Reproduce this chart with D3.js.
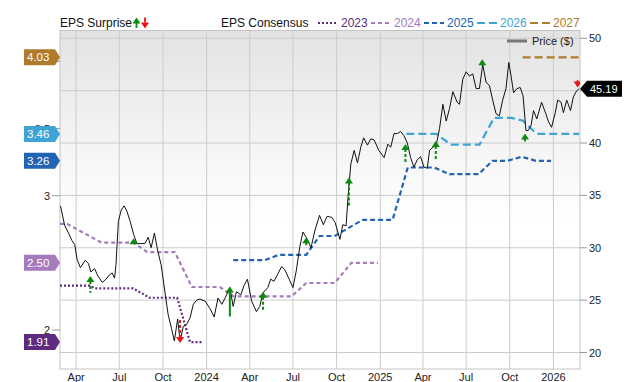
<!DOCTYPE html>
<html><head><meta charset="utf-8">
<script src="https://cdn.jsdelivr.net/npm/d3@7"></script>
<style>body{margin:0;background:#fff;} svg{display:block;font-family:"Liberation Sans",Arial,Helvetica,sans-serif;}</style>
</head><body><svg id="c" width="640" height="382"></svg>
<script>
// ---------------- DATA ----------------
const priceDates = ["2023-02-27","2023-03-08","2023-03-16","2023-03-23","2023-03-29","2023-04-03","2023-04-10","2023-04-20","2023-04-27","2023-05-02","2023-05-10","2023-05-17","2023-05-26","2023-06-01","2023-06-10","2023-06-16","2023-06-21","2023-06-24","2023-06-29","2023-07-05","2023-07-11","2023-07-17","2023-07-24","2023-07-31","2023-08-07","2023-08-16","2023-08-24","2023-08-31","2023-09-06","2023-09-13","2023-09-20","2023-09-27","2023-10-06","2023-10-12","2023-10-19","2023-10-25","2023-11-01","2023-11-06","2023-11-13","2023-11-20","2023-11-27","2023-12-04","2023-12-11","2023-12-18","2023-12-29","2024-01-08","2024-01-17","2024-01-25","2024-02-02","2024-02-09","2024-02-19","2024-02-26","2024-03-04","2024-03-13","2024-03-20","2024-03-27","2024-04-05","2024-04-15","2024-04-22","2024-04-29","2024-05-09","2024-05-15","2024-05-22","2024-05-29","2024-06-07","2024-06-14","2024-06-22","2024-07-01","2024-07-08","2024-07-15","2024-07-22","2024-07-29","2024-08-08","2024-08-16","2024-08-26","2024-09-03","2024-09-11","2024-09-21","2024-09-28","2024-10-08","2024-10-14","2024-10-21","2024-10-25","2024-10-31","2024-11-07","2024-11-14","2024-11-21","2024-11-27","2024-12-05","2024-12-12","2024-12-19","2024-12-29","2025-01-09","2025-01-17","2025-01-23","2025-01-30","2025-02-06","2025-02-13","2025-02-20","2025-02-27","2025-03-06","2025-03-13","2025-03-20","2025-03-27","2025-04-03","2025-04-10","2025-04-15","2025-04-22","2025-04-29","2025-05-06","2025-05-13","2025-05-20","2025-05-27","2025-06-03","2025-06-12","2025-06-17","2025-06-24","2025-07-01","2025-07-08","2025-07-15","2025-07-22","2025-07-29","2025-08-05","2025-08-12","2025-08-19","2025-08-26","2025-09-02","2025-09-09","2025-09-16","2025-09-23","2025-09-29","2025-10-04","2025-10-09","2025-10-16","2025-10-23","2025-10-29","2025-11-04","2025-11-09","2025-11-15","2025-11-20","2025-11-27","2025-12-07","2025-12-16","2025-12-21","2025-12-28","2026-01-05","2026-01-10","2026-01-17","2026-01-22","2026-01-29","2026-02-06","2026-02-12","2026-02-19","2026-02-24"];
const priceValues = [34.0,32.1,31.4,30.7,30.3,28.9,28.1,28.8,28.5,27.7,28.0,27.3,26.7,26.9,27.4,27.6,27.1,28.4,32.5,33.6,34.0,33.5,32.5,31.3,30.4,30.4,30.4,31.0,30.0,31.4,29.7,28.4,25.5,23.6,22.3,21.1,23.2,21.1,22.5,22.7,23.3,24.6,25.0,25.1,24.9,24.2,23.4,25.2,24.6,25.2,26.2,24.4,25.8,25.5,26.4,27.0,24.9,23.9,24.4,25.7,26.2,27.0,26.8,27.4,28.2,27.9,27.1,26.2,27.8,30.0,31.5,31.0,30.0,31.6,33.1,32.2,33.0,32.9,32.4,30.8,32.2,32.1,34.8,38.0,39.3,38.1,39.6,40.5,39.8,40.4,40.3,39.3,38.6,39.9,39.6,40.9,40.9,41.1,40.7,40.0,38.6,37.7,38.4,38.7,37.7,37.6,39.3,39.6,39.8,41.4,43.7,42.1,43.3,44.9,43.9,43.7,46.1,46.8,46.4,46.6,45.2,45.2,47.5,45.8,45.5,44.1,42.8,42.6,44.1,45.2,47.7,46.3,44.8,45.2,45.3,44.5,41.2,41.2,41.7,43.1,42.3,43.9,42.8,42.1,41.5,42.9,44.1,43.9,42.9,44.1,43.1,44.4,45.0,45.19];

const consensusYears = ["2023","2024","2025","2026","2027"];
const consensusColors = ["#5e2b80","#a57bbd","#2363b3","#3fa3d6","#b07a2c"];
const consensusDash = ["2,2","4,3","5,3","8,4","8,4"];
const cons2023Dates = ["2023-02-26","2023-04-30","2023-05-10","2023-07-30","2023-09-03","2023-10-31","2023-11-27","2023-12-24"];
const cons2023Values = [2.33,2.33,2.31,2.31,2.24,2.24,1.91,1.91];
const cons2024Dates = ["2023-02-26","2023-03-13","2023-05-25","2023-07-31","2023-08-29","2023-10-26","2023-12-01","2024-01-29","2024-02-27","2024-06-28","2024-07-29","2024-09-27","2024-11-01","2024-12-27"];
const cons2024Values = [2.79,2.79,2.65,2.65,2.58,2.58,2.32,2.32,2.25,2.25,2.35,2.35,2.50,2.50];
const cons2025Dates = ["2024-02-26","2024-05-03","2024-06-01","2024-07-29","2024-08-26","2024-09-27","2024-11-25","2025-01-27","2025-02-28","2025-04-25","2025-05-27","2025-07-27","2025-08-26","2025-09-26","2025-10-26","2025-11-25","2025-12-27"];
const cons2025Values = [2.52,2.52,2.56,2.56,2.70,2.70,2.82,2.82,3.21,3.21,3.16,3.16,3.26,3.26,3.29,3.26,3.26];
const cons2026Dates = ["2025-02-25","2025-04-29","2025-05-30","2025-07-29","2025-08-29","2025-10-04","2025-10-28","2025-11-27","2026-02-24"];
const cons2026Values = [3.46,3.46,3.38,3.38,3.58,3.58,3.56,3.46,3.46];
const cons2027Dates = ["2025-10-28","2026-02-24"];
const cons2027Values = [4.03,4.03];
const consensusLabels = ["1.91","2.50","3.26","3.46","4.03"];

const surpriseDates = ["2023-05-01","2023-07-31","2023-11-06","2024-02-19","2024-04-29","2024-07-29","2024-10-27","2025-02-23","2025-04-28","2025-08-04","2025-11-02","2026-02-21"];
const surpriseAtPrice = [27.3,30.9,20.9,26.3,25.8,31.0,36.7,39.9,40.2,48.0,40.9,45.3];
const surprisePct = [10.7,0,-19,24,13.3,3.3,23.3,12.3,13.3,0,2.3,-1.3];
const surpriseSolid = [false,false,false,true,false,false,false,false,false,false,false,false];

const priceTicks = [20,25,30,35,40,45,50];
const priceTickLabels = ["20","25","30","35","40","","50"];   // 45 sits under the last-price tag
const epsTicks = [2,2.5,3,3.5,4];
const epsTickLabels = ["2","","3","3.5",""];                 // 2.5 and 4 sit under value tags
const xTickDates = ["2023-04-01","2023-07-01","2023-10-01","2024-01-01","2024-04-01","2024-07-01","2024-10-01","2025-01-01","2025-04-01","2025-07-01","2025-10-01","2026-01-01"];
const xTickLabels = ["Apr","Jul","Oct","2024","Apr","Jul","Oct","2025","Apr","Jul","Oct","2026"];
const lastPriceLabel = "45.19";

// ---------------- CHART ----------------
const parse = d3.timeParse("%Y-%m-%d");
const svg = d3.select("#c");
const L = 60, R = 580, T = 30.5, B = 369;

const x = d3.scaleTime().domain([parse("2023-02-26"), parse("2026-02-26")]).range([L, R]);
const yP = d3.scaleLinear().domain([20, 50]).range([352.5, 38.3]);
const yE = d3.scaleLinear().domain([2, 3]).range([330, 195.7]);
const stemLen = d3.scaleLinear().domain([0, 25]).range([0, 25]);

const defs = svg.append("defs");
const grad = defs.append("linearGradient").attr("id","bg").attr("x1",0).attr("y1",0).attr("x2",0).attr("y2",1);
grad.append("stop").attr("offset","0%").attr("stop-color","#e3e3e3");
grad.append("stop").attr("offset","55%").attr("stop-color","#ffffff");
grad.append("stop").attr("offset","100%").attr("stop-color","#ffffff");
defs.append("clipPath").attr("id","clip").append("rect").attr("x",L).attr("y",T).attr("width",R-L).attr("height",B-T);

svg.append("rect").attr("x",L).attr("y",T).attr("width",R-L).attr("height",B-T).attr("fill","url(#bg)");

// grid
const g = svg.append("g");
g.selectAll(".hg").data(priceTicks).enter().append("line")
  .attr("x1",L).attr("x2",R).attr("y1",d=>yP(d)).attr("y2",d=>yP(d))
  .attr("stroke","#cccccc").attr("stroke-width",1);
g.selectAll(".vg").data(xTickDates).enter().append("line")
  .attr("x1",d=>x(parse(d))).attr("x2",d=>x(parse(d))).attr("y1",T).attr("y2",B)
  .attr("stroke","#cccccc").attr("stroke-width",1);
svg.append("rect").attr("x",L).attr("y",T).attr("width",R-L).attr("height",B-T)
  .attr("fill","none").attr("stroke","#c4c4c4").attr("stroke-width",1);

// x labels
svg.selectAll(".xl").data(xTickDates).enter().append("text")
  .attr("x",(d)=>x(parse(d))).attr("y",381).attr("text-anchor","middle")
  .attr("font-size",11).attr("fill","#222").text((d,i)=>xTickLabels[i]);

// right axis
svg.selectAll(".rt").data(priceTicks).enter().append("line")
  .attr("x1",R).attr("x2",R+7).attr("y1",d=>yP(d)).attr("y2",d=>yP(d)).attr("stroke","#999");
svg.selectAll(".rl").data(priceTicks.filter((d,i)=>priceTickLabels[i])).enter().append("text")
  .attr("x",R+9).attr("y",d=>yP(d)+4).attr("font-size",11).attr("fill","#222").text(d=>priceTickLabels[priceTicks.indexOf(d)]);

// left axis
svg.selectAll(".lt").data(epsTicks).enter().append("line")
  .attr("x1",L-8).attr("x2",L).attr("y1",d=>yE(d)).attr("y2",d=>yE(d)).attr("stroke","#999");
svg.selectAll(".ll").data(epsTicks.filter((d,i)=>epsTickLabels[i])).enter().append("text")
  .attr("x",L-10).attr("y",d=>yE(d)+4).attr("text-anchor","end").attr("font-size",11).attr("fill","#222").text(d=>epsTickLabels[epsTicks.indexOf(d)]);

// consensus lines
const consSeries = [
  [cons2023Dates, cons2023Values],[cons2024Dates, cons2024Values],[cons2025Dates, cons2025Values],
  [cons2026Dates, cons2026Values],[cons2027Dates, cons2027Values]];
const lineE = d3.line().x(d=>x(d[0])).y(d=>yE(d[1]));
const plot = svg.append("g").attr("clip-path","url(#clip)");
consSeries.forEach((s,i)=>{
  const pts = s[0].map((d,j)=>[parse(d), s[1][j]]);
  plot.append("path").attr("d",lineE(pts)).attr("fill","none")
    .attr("stroke",consensusColors[i]).attr("stroke-width",2.2)
    .attr("stroke-dasharray",consensusDash[i]);
});

// price line
const pricePts = priceDates.map((d,i)=>[parse(d), priceValues[i]]);
plot.append("path").attr("d", d3.line().x(d=>x(d[0])).y(d=>yP(d[1]))(pricePts))
  .attr("fill","none").attr("stroke","#111").attr("stroke-width",1);

// surprise arrows
surpriseDates.forEach((d,i)=>{
  const cx = x(parse(d)), tip = yP(surpriseAtPrice[i]);
  const up = surprisePct[i] >= 0;
  const col = up ? "#0a8a0a" : "#ee1111";
  const len = stemLen(Math.abs(surprisePct[i]));
  const s = up ? 1 : -1;
  if (len > 0) {
    plot.append("line").attr("x1",cx).attr("x2",cx)
      .attr("y1",tip + s*5).attr("y2",tip + s*(6+len))
      .attr("stroke",col).attr("stroke-width",2)
      .attr("stroke-dasharray", surpriseSolid[i] ? null : "3,2");
  }
  plot.append("path").attr("d",`M${cx-4},${tip+s*6}L${cx},${tip}L${cx+4},${tip+s*6}Z`).attr("fill",col);
});

// left value labels
const lastVals = consSeries.map(s=>s[1][s[1].length-1]);
lastVals.forEach((v,i)=>{
  const cy = yE(v);
  svg.append("path").attr("d",`M24,${cy-8}L55,${cy-8}L60,${cy}L55,${cy+8}L24,${cy+8}Z`).attr("fill",consensusColors[i]);
  svg.append("text").attr("x",27).attr("y",cy+4).attr("font-size",11.5).attr("fill","#fff").text(consensusLabels[i]);
});

// last price label
{
  const cy = yP(priceValues[priceValues.length-1]);
  svg.append("path").attr("d",`M${R},${cy}L${R+7},${cy-8}L${R+42},${cy-8}L${R+42},${cy+8}L${R+7},${cy+8}Z`).attr("fill","#000");
  svg.append("text").attr("x",R+10).attr("y",cy+4).attr("font-size",11).attr("fill","#fff").text(lastPriceLabel);
}

// price legend
svg.append("line").attr("x1",507).attr("x2",527).attr("y1",41).attr("y2",41).attr("stroke","#777").attr("stroke-width",3);
svg.append("text").attr("x",532).attr("y",45).attr("font-size",11).attr("fill","#222").text("Price ($)");

// top legend
svg.append("text").attr("x",60).attr("y",27).attr("font-size",12).attr("fill","#111").text("EPS Surprise");
svg.append("path").attr("d","M132.5,23.5L136.5,17.5L140.5,23.5Z M135.6,23h1.8v5h-1.8Z").attr("fill","#0a8a0a");
svg.append("path").attr("d","M141,22.5L145,28.5L149,22.5Z M144.1,17.5h1.8v5.2h-1.8Z").attr("fill","#ee1111");
svg.append("text").attr("x",221).attr("y",27).attr("font-size",12).attr("fill","#111").text("EPS Consensus");
const legX = [318,371,424,477,530];
consensusYears.forEach((yr,i)=>{
  svg.append("line").attr("x1",legX[i]).attr("x2",legX[i]+20).attr("y1",23).attr("y2",23)
    .attr("stroke",consensusColors[i]).attr("stroke-width",2.2).attr("stroke-dasharray",consensusDash[i]);
  svg.append("text").attr("x",legX[i]+23).attr("y",27).attr("font-size",12).attr("fill",consensusColors[i]).text(yr);
});
</script>
</body></html>
